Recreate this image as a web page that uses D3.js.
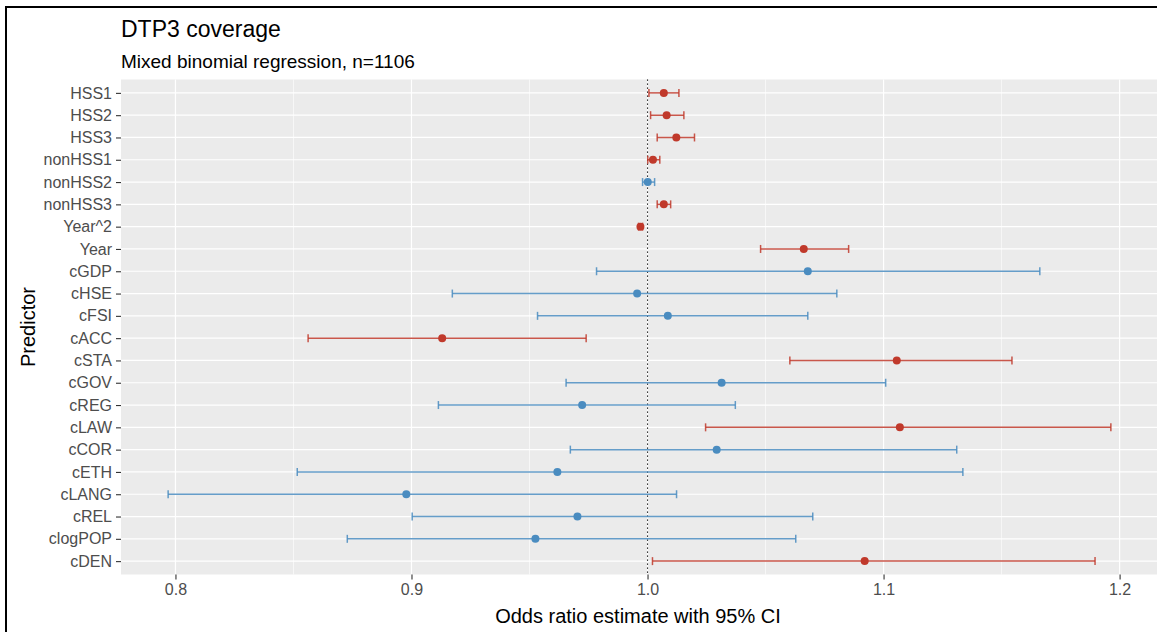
<!DOCTYPE html>
<html>
<head>
<meta charset="utf-8">
<script src="https://cdnjs.cloudflare.com/ajax/libs/d3/7.8.5/d3.min.js"></script>
<style>
    body { margin: 0; background: #fff; }
    svg { display: block; font-family: "Liberation Sans", Arial, sans-serif; }
    .tick-label { fill: #4d4d4d; font-size: 16px; }
    .axis-title { fill: #000; font-size: 20px; }
</style>
</head>
<body>
<script>

// predictors, top to bottom
var predictors = ["HSS1", "HSS2", "HSS3", "nonHSS1", "nonHSS2", "nonHSS3", "Year^2", "Year",
                  "cGDP", "cHSE", "cFSI", "cACC", "cSTA", "cGOV", "cREG", "cLAW", "cCOR",
                  "cETH", "cLANG", "cREL", "clogPOP", "cDEN"];
var estimate = [1.0069, 1.0081, 1.0122, 1.0023, 1.0001, 1.0069, 0.9970, 1.0662,
                1.0679, 0.9956, 1.0086, 0.9130, 1.1056, 1.0314, 0.9723, 1.1069, 1.0293,
                0.9618, 0.8978, 0.9703, 0.9525, 1.0920];
var lower = [1.0006, 1.0013, 1.0041, 1.0001, 0.9979, 1.0041, 0.9962, 1.0479,
             0.9784, 0.9173, 0.9534, 0.8562, 1.0603, 0.9655, 0.9114, 1.0246, 0.9673,
             0.8516, 0.7969, 0.9003, 0.8728, 1.0021];
var upper = [1.0133, 1.0154, 1.0199, 1.0052, 1.0030, 1.0098, 0.9979, 1.0852,
             1.1662, 1.0802, 1.0679, 0.9740, 1.1544, 1.1009, 1.0372, 1.1963, 1.1310,
             1.1336, 1.0123, 1.0700, 1.0628, 1.1896];
// significant (red) or not (blue)
var significant = [true, true, true, true, false, true, true, true,
                   false, false, false, true, true, false, false, true, false,
                   false, false, false, false, true];
var xTicks = [0.8, 0.9, 1.0, 1.1, 1.2];
var xMinor = [0.85, 0.95, 1.05, 1.15];

var data = predictors.map(function(p, i) {
    return {name: p, est: estimate[i], lo: lower[i], hi: upper[i], sig: significant[i]};
});

var width = 1157, height = 632;
var panel = {left: 121, right: 1158, top: 79.5, bottom: 574.5};

var svg = d3.select("body")
            .append("svg")
            .attr("width", width)
            .attr("height", height);

// outer frame (only left and top visible)
svg.append("rect")
    .attr("x", 6)
    .attr("y", 7)
    .attr("width", width + 20)
    .attr("height", height + 20)
    .attr("fill", "#fff")
    .attr("stroke", "#000")
    .attr("stroke-width", 2);

var dmin = d3.min(lower), dmax = d3.max(upper);
var pad = (dmax - dmin) * 0.05;

var xScale = d3.scaleLinear()
                .domain([dmin - pad, dmax + pad])
                .range([panel.left, panel.right]);

var yScale = d3.scalePoint()
                .domain(predictors)
                .range([panel.top, panel.bottom])
                .padding(0.6);

var red = "#c0392b", blue = "#4a8cc0";

// panel background
svg.append("rect")
    .attr("x", panel.left)
    .attr("y", panel.top)
    .attr("width", panel.right - panel.left)
    .attr("height", panel.bottom - panel.top)
    .attr("fill", "#ebebeb");

// grid
svg.selectAll(".minor")
    .data(xMinor)
    .enter()
    .append("line")
    .attr("x1", function(d) { return xScale(d); })
    .attr("x2", function(d) { return xScale(d); })
    .attr("y1", panel.top)
    .attr("y2", panel.bottom)
    .attr("stroke", "#fff")
    .attr("stroke-width", 0.6);

svg.selectAll(".majorx")
    .data(xTicks)
    .enter()
    .append("line")
    .attr("x1", function(d) { return xScale(d); })
    .attr("x2", function(d) { return xScale(d); })
    .attr("y1", panel.top)
    .attr("y2", panel.bottom)
    .attr("stroke", "#fff")
    .attr("stroke-width", 1.2);

svg.selectAll(".majory")
    .data(predictors)
    .enter()
    .append("line")
    .attr("x1", panel.left)
    .attr("x2", panel.right)
    .attr("y1", function(d) { return yScale(d); })
    .attr("y2", function(d) { return yScale(d); })
    .attr("stroke", "#fff")
    .attr("stroke-width", 1.2);

// reference line at OR = 1
svg.append("line")
    .attr("x1", xScale(1))
    .attr("x2", xScale(1))
    .attr("y1", panel.top)
    .attr("y2", panel.bottom)
    .attr("stroke", "#000")
    .attr("stroke-width", 1.1)
    .attr("stroke-dasharray", "1.2,2.8");

// error bars
var bars = svg.selectAll(".bar")
    .data(data)
    .enter()
    .append("g")
    .attr("stroke", function(d) { return d.sig ? red : blue; })
    .attr("stroke-opacity", 0.85)
    .attr("stroke-width", 1.5);

bars.append("line")
    .attr("x1", function(d) { return xScale(d.lo); })
    .attr("x2", function(d) { return xScale(d.hi); })
    .attr("y1", function(d) { return yScale(d.name); })
    .attr("y2", function(d) { return yScale(d.name); });

bars.append("line")
    .attr("x1", function(d) { return xScale(d.lo); })
    .attr("x2", function(d) { return xScale(d.lo); })
    .attr("y1", function(d) { return yScale(d.name) - 4; })
    .attr("y2", function(d) { return yScale(d.name) + 4; });

bars.append("line")
    .attr("x1", function(d) { return xScale(d.hi); })
    .attr("x2", function(d) { return xScale(d.hi); })
    .attr("y1", function(d) { return yScale(d.name) - 4; })
    .attr("y2", function(d) { return yScale(d.name) + 4; });

// points
svg.selectAll("circle")
    .data(data)
    .enter()
    .append("circle")
    .attr("cx", function(d) { return xScale(d.est); })
    .attr("cy", function(d) { return yScale(d.name); })
    .attr("r", 4)
    .attr("fill", function(d) { return d.sig ? red : blue; });

// y axis
var yAxis = d3.axisLeft(yScale).tickSize(5).tickPadding(4);
var gy = svg.append("g")
    .attr("transform", "translate(" + panel.left + ",0)")
    .call(yAxis);
gy.select(".domain").remove();
gy.selectAll(".tick line").attr("stroke", "#333").attr("stroke-width", 1.1);
gy.selectAll(".tick text")
    .attr("class", "tick-label")
    .attr("font-size", null)
    .attr("font-family", null);

// x axis
var xAxis = d3.axisBottom(xScale)
                .tickValues(xTicks)
                .tickFormat(d3.format(".1f"))
                .tickSize(5)
                .tickPadding(4);
var gx = svg.append("g")
    .attr("transform", "translate(0," + panel.bottom + ")")
    .call(xAxis);
gx.select(".domain").remove();
gx.selectAll(".tick line").attr("stroke", "#333").attr("stroke-width", 1.1);
gx.selectAll(".tick text")
    .attr("class", "tick-label")
    .attr("font-size", null)
    .attr("font-family", null);

// titles
svg.append("text")
    .attr("x", 121)
    .attr("y", 37)
    .style("font-size", "23px")
    .text("DTP3 coverage");

svg.append("text")
    .attr("x", 121)
    .attr("y", 68)
    .style("font-size", "19px")
    .text("Mixed binomial regression, n=1106");

svg.append("text")
    .attr("class", "axis-title")
    .attr("x", (panel.left + 1155) / 2)
    .attr("y", 623)
    .style("text-anchor", "middle")
    .text("Odds ratio estimate with 95% CI");

svg.append("text")
    .attr("class", "axis-title")
    .attr("transform", "translate(35," + ((panel.top + panel.bottom) / 2) + ") rotate(-90)")
    .style("text-anchor", "middle")
    .text("Predictor");

</script>
</body>
</html>
